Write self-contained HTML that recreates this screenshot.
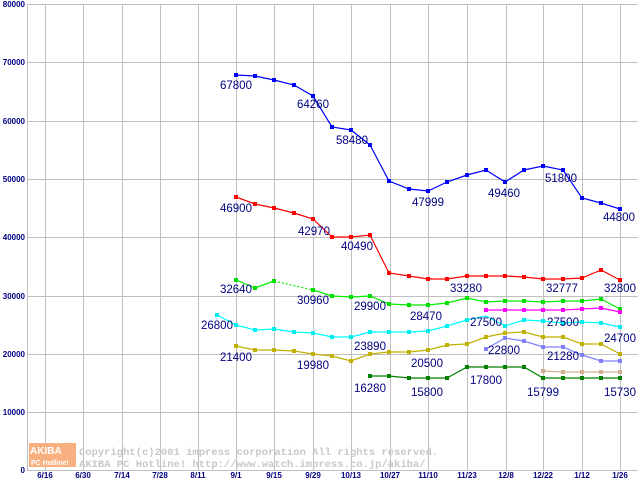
<!DOCTYPE html>
<html><head><meta charset="utf-8"><style>html,body{margin:0;padding:0;background:#fff}svg{display:block}</style></head><body>
<svg width="640" height="480" viewBox="0 0 640 480" xmlns="http://www.w3.org/2000/svg" font-family="Liberation Sans, sans-serif">
<rect width="640" height="480" fill="#fff"/>
<g stroke="#c0c0c0" stroke-width="1">
<line x1="27" y1="4.5" x2="638" y2="4.5"/>
<line x1="27" y1="62.5" x2="638" y2="62.5"/>
<line x1="27" y1="121.5" x2="638" y2="121.5"/>
<line x1="27" y1="179.5" x2="638" y2="179.5"/>
<line x1="27" y1="237.5" x2="638" y2="237.5"/>
<line x1="27" y1="296.5" x2="638" y2="296.5"/>
<line x1="27" y1="354.5" x2="638" y2="354.5"/>
<line x1="27" y1="412.5" x2="638" y2="412.5"/>
<line x1="45.5" y1="4" x2="45.5" y2="470"/><line x1="83.5" y1="4" x2="83.5" y2="470"/><line x1="122.5" y1="4" x2="122.5" y2="470"/><line x1="160.5" y1="4" x2="160.5" y2="470"/><line x1="198.5" y1="4" x2="198.5" y2="470"/><line x1="236.5" y1="4" x2="236.5" y2="470"/><line x1="274.5" y1="4" x2="274.5" y2="470"/><line x1="313.5" y1="4" x2="313.5" y2="470"/><line x1="351.5" y1="4" x2="351.5" y2="470"/><line x1="390.5" y1="4" x2="390.5" y2="470"/><line x1="428.5" y1="4" x2="428.5" y2="470"/><line x1="467.5" y1="4" x2="467.5" y2="470"/><line x1="506.5" y1="4" x2="506.5" y2="470"/><line x1="543.5" y1="4" x2="543.5" y2="470"/><line x1="582.5" y1="4" x2="582.5" y2="470"/><line x1="620.5" y1="4" x2="620.5" y2="470"/>
</g>
<line x1="27.5" y1="4" x2="27.5" y2="471" stroke="#c0c0c0"/>
<line x1="27" y1="470.5" x2="638" y2="470.5" stroke="#c0c0c0"/>
<g font-size="8" font-weight="bold" fill="#000080" text-anchor="end">
<text x="25" y="7">80000</text><text x="25" y="65">70000</text><text x="25" y="124">60000</text><text x="25" y="182">50000</text><text x="25" y="240">40000</text><text x="25" y="299">30000</text><text x="25" y="357">20000</text><text x="25" y="415">10000</text><text x="25" y="473">0</text>
</g>
<g font-size="8" font-weight="bold" fill="#000080" text-anchor="middle">
<text x="45" y="478">6/16</text><text x="83" y="478">6/30</text><text x="122" y="478">7/14</text><text x="160" y="478">7/28</text><text x="198" y="478">8/11</text><text x="236" y="478">9/1</text><text x="274" y="478">9/15</text><text x="313" y="478">9/29</text><text x="351" y="478">10/13</text><text x="390" y="478">10/27</text><text x="428" y="478">11/10</text><text x="467" y="478">11/23</text><text x="506" y="478">12/8</text><text x="543" y="478">12/22</text><text x="582" y="478">1/12</text><text x="620" y="478">1/26</text>
</g>
<rect x="29" y="443" width="47" height="13" fill="#f8b080"/><rect x="29" y="456" width="47" height="11" fill="#f8b080"/>
<text x="30" y="454" font-size="10" font-weight="bold" fill="#fff">AKIBA</text>
<text x="31" y="465" font-size="7" font-weight="bold" fill="#fff">PC Hotline!</text>
<g font-family="Liberation Mono, monospace" font-size="10.5" font-weight="bold" fill="#c8c8c8">
<text x="79" y="455">Copyright(c)2001 impress corporation All rights reserved.</text>
<text x="79" y="467">AKIBA PC Hotline!  http://www.watch.impress.co.jp/akiba/</text>
</g>
<g fill="none" stroke-width="1.2">
<polyline stroke="#0000ff" points="236,75 255,76 274,80 294,85 313,96 332,127 351,130 370,145 389,181 409,189 428,191 447,182 467,175 486,170 505,182 524,170 543,166 563,170 582,198 601,203 620,209"/>
<polyline stroke="#ff0000" points="236,197 255,204 274,208 294,213 313,219 332,237 351,237 370,235 389,273 409,276 428,279 447,279 467,276 486,276 505,276 524,277 543,279 563,279 582,278 601,270 620,280"/>
<polyline stroke="#00ee00" points="236,280 255,288 274,281"/>
<polyline stroke="#00ee00" stroke-dasharray="2,2" points="274,281 313,290"/>
<polyline stroke="#00ee00" points="313,290 332,296 351,297 370,296 389,304 409,305 428,305 447,303 467,298 486,302 505,301 524,301 543,302 563,301 582,301 601,299 620,309"/>
<polyline stroke="#00ffff" points="217,315 236,325 255,330 274,329 294,332 313,333 332,337 351,337 370,332 389,332 409,332 428,331 447,326 467,320 486,316 505,326 524,320 543,321 563,323 582,322 601,323 620,327"/>
<polyline stroke="#c0b000" points="236,346 255,350 274,350 294,351 313,354 332,356 351,361 370,354 389,352 409,352 428,350 447,345 467,344 486,337 505,333 524,332 543,337 563,337 582,344 601,344 620,354"/>
<polyline stroke="#008000" points="370,376 389,376 409,378 428,378 447,378 467,367 486,367 505,367 524,367 543,378 563,378 582,378 601,378 620,378"/>
<polyline stroke="#ff00ff" points="486,310 505,310 524,310 543,310 563,310 582,309 601,308 620,312"/>
<polyline stroke="#8080ff" points="486,349 505,338 524,341 543,347 563,347 582,355 601,361 620,361"/>
<polyline stroke="#d0b090" points="543,371 563,372 582,372 601,372 620,372"/>
</g>
<g>
<g fill="#0000ff"><rect x="234" y="73" width="4" height="4"/><rect x="253" y="74" width="4" height="4"/><rect x="272" y="78" width="4" height="4"/><rect x="292" y="83" width="4" height="4"/><rect x="311" y="94" width="4" height="4"/><rect x="330" y="125" width="4" height="4"/><rect x="349" y="128" width="4" height="4"/><rect x="368" y="143" width="4" height="4"/><rect x="387" y="179" width="4" height="4"/><rect x="407" y="187" width="4" height="4"/><rect x="426" y="189" width="4" height="4"/><rect x="445" y="180" width="4" height="4"/><rect x="465" y="173" width="4" height="4"/><rect x="484" y="168" width="4" height="4"/><rect x="503" y="180" width="4" height="4"/><rect x="522" y="168" width="4" height="4"/><rect x="541" y="164" width="4" height="4"/><rect x="561" y="168" width="4" height="4"/><rect x="580" y="196" width="4" height="4"/><rect x="599" y="201" width="4" height="4"/><rect x="618" y="207" width="4" height="4"/></g>
<g fill="#ff0000"><rect x="234" y="195" width="4" height="4"/><rect x="253" y="202" width="4" height="4"/><rect x="272" y="206" width="4" height="4"/><rect x="292" y="211" width="4" height="4"/><rect x="311" y="217" width="4" height="4"/><rect x="330" y="235" width="4" height="4"/><rect x="349" y="235" width="4" height="4"/><rect x="368" y="233" width="4" height="4"/><rect x="387" y="271" width="4" height="4"/><rect x="407" y="274" width="4" height="4"/><rect x="426" y="277" width="4" height="4"/><rect x="445" y="277" width="4" height="4"/><rect x="465" y="274" width="4" height="4"/><rect x="484" y="274" width="4" height="4"/><rect x="503" y="274" width="4" height="4"/><rect x="522" y="275" width="4" height="4"/><rect x="541" y="277" width="4" height="4"/><rect x="561" y="277" width="4" height="4"/><rect x="580" y="276" width="4" height="4"/><rect x="599" y="268" width="4" height="4"/><rect x="618" y="278" width="4" height="4"/></g>
<g fill="#00dd00"><rect x="234" y="278" width="4" height="4"/><rect x="253" y="286" width="4" height="4"/><rect x="272" y="279" width="4" height="4"/><rect x="311" y="288" width="4" height="4"/><rect x="330" y="294" width="4" height="4"/><rect x="349" y="295" width="4" height="4"/><rect x="368" y="294" width="4" height="4"/><rect x="387" y="302" width="4" height="4"/><rect x="407" y="303" width="4" height="4"/><rect x="426" y="303" width="4" height="4"/><rect x="445" y="301" width="4" height="4"/><rect x="465" y="296" width="4" height="4"/><rect x="484" y="300" width="4" height="4"/><rect x="503" y="299" width="4" height="4"/><rect x="522" y="299" width="4" height="4"/><rect x="541" y="300" width="4" height="4"/><rect x="561" y="299" width="4" height="4"/><rect x="580" y="299" width="4" height="4"/><rect x="599" y="297" width="4" height="4"/><rect x="618" y="307" width="4" height="4"/></g>
<g fill="#00eeee"><rect x="215" y="313" width="4" height="4"/><rect x="234" y="323" width="4" height="4"/><rect x="253" y="328" width="4" height="4"/><rect x="272" y="327" width="4" height="4"/><rect x="292" y="330" width="4" height="4"/><rect x="311" y="331" width="4" height="4"/><rect x="330" y="335" width="4" height="4"/><rect x="349" y="335" width="4" height="4"/><rect x="368" y="330" width="4" height="4"/><rect x="387" y="330" width="4" height="4"/><rect x="407" y="330" width="4" height="4"/><rect x="426" y="329" width="4" height="4"/><rect x="445" y="324" width="4" height="4"/><rect x="465" y="318" width="4" height="4"/><rect x="503" y="324" width="4" height="4"/><rect x="522" y="318" width="4" height="4"/><rect x="541" y="319" width="4" height="4"/><rect x="561" y="321" width="4" height="4"/><rect x="580" y="320" width="4" height="4"/><rect x="599" y="321" width="4" height="4"/><rect x="618" y="325" width="4" height="4"/></g>
<g fill="#c0b000"><rect x="234" y="344" width="4" height="4"/><rect x="253" y="348" width="4" height="4"/><rect x="272" y="348" width="4" height="4"/><rect x="292" y="349" width="4" height="4"/><rect x="311" y="352" width="4" height="4"/><rect x="330" y="354" width="4" height="4"/><rect x="349" y="359" width="4" height="4"/><rect x="368" y="352" width="4" height="4"/><rect x="387" y="350" width="4" height="4"/><rect x="407" y="350" width="4" height="4"/><rect x="426" y="348" width="4" height="4"/><rect x="445" y="343" width="4" height="4"/><rect x="465" y="342" width="4" height="4"/><rect x="484" y="335" width="4" height="4"/><rect x="503" y="331" width="4" height="4"/><rect x="522" y="330" width="4" height="4"/><rect x="541" y="335" width="4" height="4"/><rect x="561" y="335" width="4" height="4"/><rect x="580" y="342" width="4" height="4"/><rect x="599" y="342" width="4" height="4"/><rect x="618" y="352" width="4" height="4"/></g>
<g fill="#008000"><rect x="368" y="374" width="4" height="4"/><rect x="387" y="374" width="4" height="4"/><rect x="407" y="376" width="4" height="4"/><rect x="426" y="376" width="4" height="4"/><rect x="445" y="376" width="4" height="4"/><rect x="465" y="365" width="4" height="4"/><rect x="484" y="365" width="4" height="4"/><rect x="503" y="365" width="4" height="4"/><rect x="522" y="365" width="4" height="4"/><rect x="541" y="376" width="4" height="4"/><rect x="561" y="376" width="4" height="4"/><rect x="580" y="376" width="4" height="4"/><rect x="599" y="376" width="4" height="4"/><rect x="618" y="376" width="4" height="4"/></g>
<g fill="#ff00ff"><rect x="484" y="308" width="4" height="4"/><rect x="503" y="308" width="4" height="4"/><rect x="522" y="308" width="4" height="4"/><rect x="541" y="308" width="4" height="4"/><rect x="561" y="308" width="4" height="4"/><rect x="580" y="307" width="4" height="4"/><rect x="599" y="306" width="4" height="4"/><rect x="618" y="310" width="4" height="4"/></g>
<g fill="#8080ff"><rect x="484" y="347" width="4" height="4"/><rect x="503" y="336" width="4" height="4"/><rect x="522" y="339" width="4" height="4"/><rect x="541" y="345" width="4" height="4"/><rect x="561" y="345" width="4" height="4"/><rect x="580" y="353" width="4" height="4"/><rect x="599" y="359" width="4" height="4"/><rect x="618" y="359" width="4" height="4"/></g>
<g fill="#d0b090"><rect x="541" y="369" width="4" height="4"/><rect x="561" y="370" width="4" height="4"/><rect x="580" y="370" width="4" height="4"/><rect x="599" y="370" width="4" height="4"/><rect x="618" y="370" width="4" height="4"/></g>
</g>
<g font-size="11.5" fill="#000080">
<text x="220" y="89">67800</text><text x="297" y="108">64260</text><text x="336" y="144">58480</text><text x="412" y="206">47999</text><text x="488" y="197">49460</text><text x="545" y="182">51800</text><text x="603" y="221">44800</text>
<text x="220" y="212">46900</text><text x="298" y="235">42970</text><text x="341" y="250">40490</text><text x="450" y="292">33280</text><text x="546" y="292">32777</text><text x="604" y="292">32800</text>
<text x="220" y="293">32640</text><text x="297" y="304">30960</text><text x="354" y="310">29900</text><text x="410" y="320">28470</text><text x="470" y="326">27500</text><text x="547" y="326">27500</text><text x="604" y="342">24700</text>
<text x="201" y="329">26800</text><text x="354" y="350">23890</text><text x="488" y="354">22800</text><text x="547" y="360">21280</text>
<text x="220" y="361">21400</text><text x="297" y="369">19980</text><text x="411" y="367">20500</text>
<text x="354" y="392">16280</text><text x="411" y="396">15800</text><text x="470" y="384">17800</text><text x="527" y="396">15799</text><text x="604" y="396">15730</text>
</g>
</svg>
</body></html>
